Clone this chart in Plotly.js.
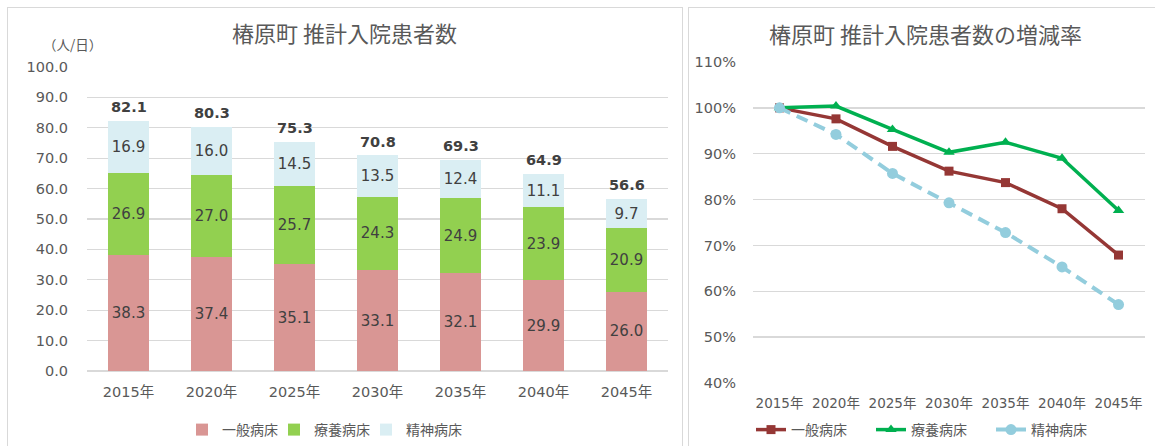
<!DOCTYPE html>
<html>
<head>
<meta charset="utf-8">
<script src="https://cdn.plot.ly/plotly-3.0.1.min.js"></script>
<style>
  html, body { margin: 0; padding: 0; background: #ffffff; }
  #chart { width: 1155px; height: 446px; }
</style>
</head>
<body>
<div id="chart"></div>
<script>
// ---- data ----
const years = ['2015年', '2020年', '2025年', '2030年', '2035年', '2040年', '2045年'];
const generalBeds = [38.3, 37.4, 35.1, 33.1, 32.1, 29.9, 26.0];
const longTermBeds = [26.9, 27.0, 25.7, 24.3, 24.9, 23.9, 20.9];
const psychBeds = [16.9, 16.0, 14.5, 13.5, 12.4, 11.1, 9.7];
const totals = [82.1, 80.3, 75.3, 70.8, 69.3, 64.9, 56.6];

const generalRate = [100, 97.6, 91.6, 86.2, 83.7, 78.0, 67.9];
const longTermRate = [100, 100.4, 95.3, 90.3, 92.5, 89.0, 77.6];
const psychRate = [100, 94.2, 85.7, 79.3, 72.8, 65.3, 57.1];

const seriesNames = ['一般病床', '療養病床', '精神病床'];
const leftTitle = '椿原町 推計入院患者数';
const rightTitle = '椿原町 推計入院患者数の増減率';
const unitLabel = '（人/日）';

// ---- styling ----
const W = 1155, H = 446;
const FONT = 'DejaVu Sans, Noto Sans CJK JP, sans-serif';
const CJK = 'Noto Sans CJK JP, sans-serif';
const TXT = '#595959';
const GRID = '#D9D9D9';
const px = v => v / W;
const py = v => 1 - v / H;

const barText = { family: FONT, size: 15, color: '#404040' };

const traces = [
  { type: 'bar', x: years, y: generalBeds, name: seriesNames[0],
    marker: { color: '#D99694' }, texttemplate: '%{y:.1f}', textposition: 'inside',
    insidetextanchor: 'middle', constraintext: 'none', textfont: barText,
    xaxis: 'x', yaxis: 'y', legend: 'legend', hoverinfo: 'skip' },
  { type: 'bar', x: years, y: longTermBeds, name: seriesNames[1],
    marker: { color: '#92D050' }, texttemplate: '%{y:.1f}', textposition: 'inside',
    insidetextanchor: 'middle', constraintext: 'none', textfont: barText,
    xaxis: 'x', yaxis: 'y', legend: 'legend', hoverinfo: 'skip' },
  { type: 'bar', x: years, y: psychBeds, name: seriesNames[2],
    marker: { color: '#DAEEF3' }, texttemplate: '%{y:.1f}', textposition: 'inside',
    insidetextanchor: 'middle', constraintext: 'none', textfont: barText,
    xaxis: 'x', yaxis: 'y', legend: 'legend', legendwidth: 80, hoverinfo: 'skip' },
  { type: 'scatter', mode: 'lines+markers', x: years, y: generalRate, name: seriesNames[0],
    line: { color: '#953735', width: 3.5 }, marker: { symbol: 'square', size: 9, color: '#953735' },
    xaxis: 'x2', yaxis: 'y2', legend: 'legend2', hoverinfo: 'skip' },
  { type: 'scatter', mode: 'lines+markers', x: years, y: longTermRate, name: seriesNames[1],
    line: { color: '#00B050', width: 3.5 }, marker: { symbol: 'triangle-up', size: 10, color: '#00B050' },
    xaxis: 'x2', yaxis: 'y2', legend: 'legend2', hoverinfo: 'skip' },
  { type: 'scatter', mode: 'lines+markers', x: years, y: psychRate, name: seriesNames[2],
    line: { color: '#93CDDD', width: 4, dash: '12px,7px' }, marker: { symbol: 'circle', size: 11, color: '#93CDDD' },
    xaxis: 'x2', yaxis: 'y2', legend: 'legend2', legendwidth: 80, hoverinfo: 'skip' }
];

const annotations = [
  { text: leftTitle, xref: 'paper', yref: 'paper', x: px(344), y: py(32),
    xanchor: 'center', yanchor: 'middle', showarrow: false,
    font: { family: CJK, size: 22, color: TXT } },
  { text: rightTitle, xref: 'paper', yref: 'paper', x: px(925), y: py(33),
    xanchor: 'center', yanchor: 'middle', showarrow: false,
    font: { family: CJK, size: 22, color: TXT } },
  { text: unitLabel, xref: 'paper', yref: 'paper', x: px(72), y: py(44),
    xanchor: 'center', yanchor: 'middle', showarrow: false,
    font: { family: CJK, size: 13.5, color: TXT } }
];
years.forEach((yr, i) => {
  annotations.push({ text: totals[i].toFixed(1), x: yr, y: totals[i], xref: 'x', yref: 'y',
    xanchor: 'center', yanchor: 'bottom', yshift: 4, showarrow: false,
    font: { family: FONT, size: 14.5, color: '#404040', weight: 'bold' } });
});

const border = { color: GRID, width: 1 };
const shapes = [
  { type: 'line', xref: 'paper', yref: 'paper', x0: px(7), x1: px(682), y0: py(7.5), y1: py(7.5), line: border },
  { type: 'line', xref: 'paper', yref: 'paper', x0: px(7.5), x1: px(7.5), y0: py(7), y1: -0.05, line: border },
  { type: 'line', xref: 'paper', yref: 'paper', x0: px(682.5), x1: px(682.5), y0: py(7), y1: -0.05, line: border },
  { type: 'line', xref: 'paper', yref: 'paper', x0: px(688), x1: 1.01, y0: py(7.5), y1: py(7.5), line: border },
  { type: 'line', xref: 'paper', yref: 'paper', x0: px(688.5), x1: px(688.5), y0: py(7), y1: -0.05, line: border }
];

const tickFont = { family: FONT, size: 14.5, color: TXT };

const layout = {
  width: W, height: H,
  margin: { l: 0, r: 0, t: 0, b: 0 },
  paper_bgcolor: '#ffffff', plot_bgcolor: 'rgba(0,0,0,0)',
  barmode: 'stack', bargap: 0.506,
  font: { family: FONT, color: TXT },
  showlegend: true,
  xaxis: { domain: [px(87), px(668)], anchor: 'y', type: 'category',
    showgrid: false, showline: false, zeroline: false, ticks: '',
    tickfont: { family: FONT, size: 14.5, color: TXT }, ticklabelstandoff: 10, fixedrange: true },
  yaxis: { domain: [py(371), py(67)], anchor: 'x', range: [0, 100], dtick: 10, tick0: 0,
    tickformat: '.1f', showgrid: true, gridcolor: GRID, gridwidth: 1.3,
    zeroline: true, zerolinecolor: GRID, zerolinewidth: 1.3, showline: false, ticks: '',
    tickfont: tickFont, ticklabelstandoff: 18, fixedrange: true },
  xaxis2: { domain: [px(753), px(1145)], anchor: 'y2', type: 'category',
    showgrid: false, showline: false, zeroline: false, ticks: '',
    tickfont: { family: FONT, size: 13.5, color: TXT }, ticklabelstandoff: 10, fixedrange: true },
  yaxis2: { domain: [py(383), py(62)], anchor: 'x2', range: [40, 110], dtick: 10, tick0: 0,
    ticksuffix: '%', showgrid: true, gridcolor: GRID, gridwidth: 1.3,
    zeroline: false, showline: false, ticks: '',
    tickfont: tickFont, ticklabelstandoff: 16, fixedrange: true },
  legend: { orientation: 'h', x: px(182), y: py(430), xanchor: 'left', yanchor: 'middle',
    traceorder: 'normal', entrywidth: 47, entrywidthmode: 'pixels',
    font: { family: CJK, size: 14, color: TXT }, bgcolor: 'rgba(0,0,0,0)' },
  legend2: { orientation: 'h', x: px(751), y: py(430), xanchor: 'left', yanchor: 'middle',
    traceorder: 'normal', entrywidth: 75, entrywidthmode: 'pixels',
    font: { family: CJK, size: 14, color: TXT }, bgcolor: 'rgba(0,0,0,0)' },
  annotations: annotations,
  shapes: shapes
};

Plotly.newPlot('chart', traces, layout, { staticPlot: true, displayModeBar: false });
</script>
</body>
</html>
